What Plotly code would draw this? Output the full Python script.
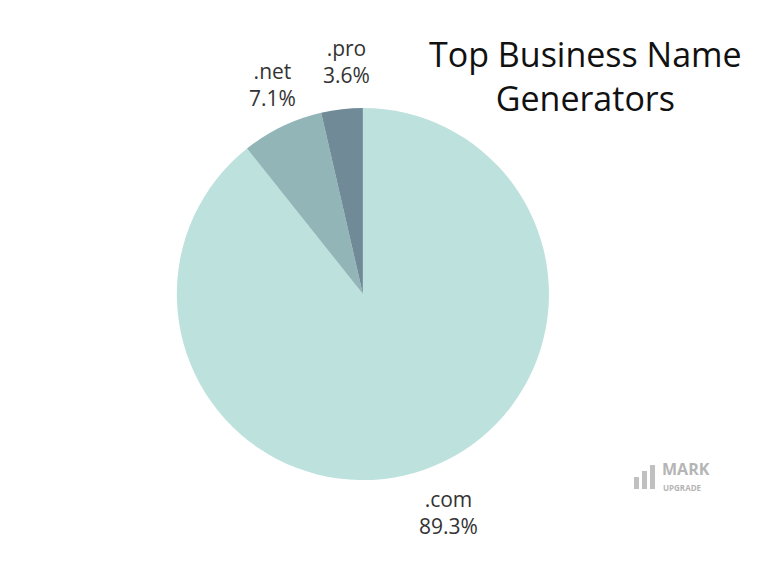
import plotly.graph_objects as go

labels = [".com", ".net", ".pro"]
values = [89.3, 7.1, 3.6]
colors = ["#BDE1DC", "#92B5B8", "#718A97"]

fig = go.Figure(go.Pie(
    labels=labels, values=values, sort=False, direction="clockwise", rotation=0,
    marker=dict(colors=colors, line=dict(width=0)),
    textinfo="none",
    domain=dict(x=[0.2196, 0.7046], y=[0.1703, 0.8243]),
    showlegend=False, hoverinfo="skip",
))
label_pos = [(440, 504), (264, 76), (338, 53)]
total = sum(values)
for lab, v, (px, py) in zip(labels, values, label_pos):
    fig.add_annotation(x=px / 768, y=1 - py / 569, xref="paper", yref="paper", showarrow=False,
                       xanchor="center", yanchor="middle",
                       text=f"{lab}<br>{v / total * 100:.1f}%",
                       font=dict(family="Open Sans", size=21, color="#333333"))
fig.add_annotation(x=577 / 768, y=1 - 68 / 569, xref="paper", yref="paper", showarrow=False,
                   xanchor="center", yanchor="middle",
                   text="Top Business Name<br>Generators", align="center",
                   font=dict(family="Open Sans", size=34, color="#111111"))
fig.add_annotation(x=652 / 768, y=1 - 461 / 569, xref="paper", yref="paper", showarrow=False,
                   xanchor="left", yanchor="middle",
                   text="<b>MARK</b>", font=dict(family="Open Sans", size=16, color="#b5b5b5"))
fig.add_annotation(x=653 / 768, y=1 - 479 / 569, xref="paper", yref="paper", showarrow=False,
                   xanchor="left", yanchor="middle",
                   text="<b>UPGRADE</b>", font=dict(family="Open Sans", size=8, color="#b5b5b5"))
for i, h in enumerate([12, 18, 24]):
    x0 = 626 + i * 8
    fig.add_shape(type="rect", xref="paper", yref="paper",
                  x0=x0 / 768, x1=(x0 + 5) / 768, y0=1 - 481 / 569, y1=1 - (481 - h) / 569,
                  fillcolor="#c0c0c0", line=dict(width=0))
fig.update_layout(width=768, height=569, margin=dict(l=0, r=0, t=0, b=0),
                  paper_bgcolor="white", plot_bgcolor="white")
fig.write_html("out.html")
